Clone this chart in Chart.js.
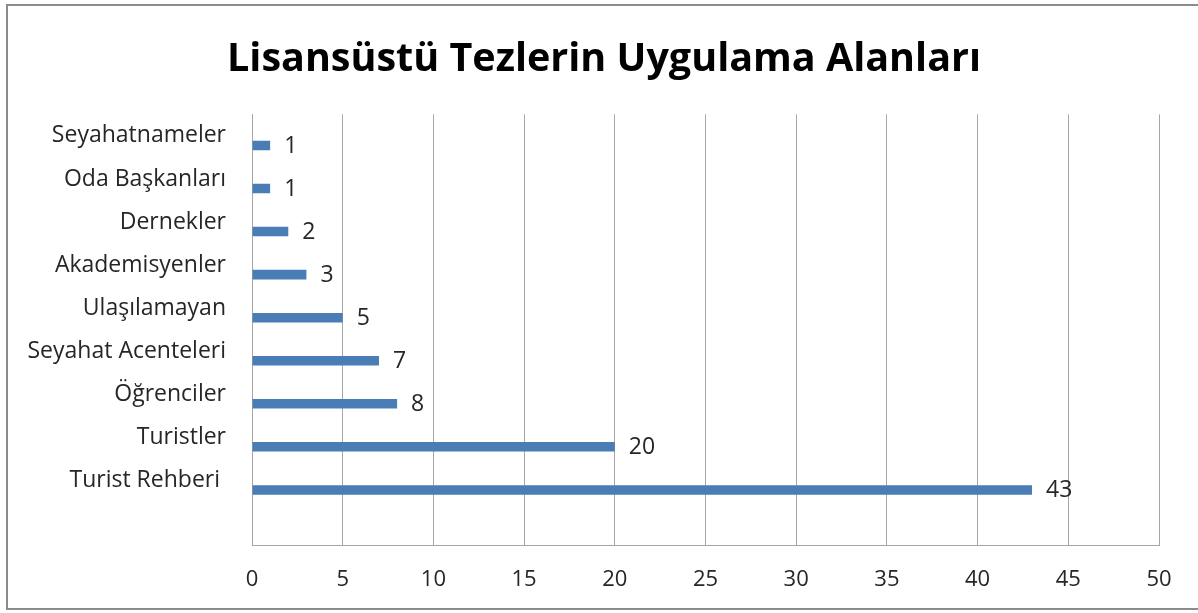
<!DOCTYPE html>
<html>
<head>
<meta charset="utf-8">
<script src="https://cdn.jsdelivr.net/npm/chart.js@4"></script>
<style>
    html, body { margin: 0; padding: 0; background: #fff; }
    #wrap { position: relative; width: 1198px; height: 613px; }
</style>
</head>
<body>
<div id="wrap"><canvas id="alanChart"></canvas></div>
<script>
// categories top to bottom, last row is the empty one from the sheet
const categories = ['Seyahatnameler', 'Oda Başkanları', 'Dernekler', 'Akademisyenler', 'Ulaşılamayan',
    'Seyahat Acenteleri', 'Öğrenciler', 'Turistler', 'Turist Rehberi ', ''];
const counts = [1, 1, 2, 3, 5, 7, 8, 20, 43, null];
// empty series that sits above the real one in each group (as in the original sheet)
const emptySeries = [null, null, null, null, null, null, null, null, null, null];
const xTicksMax = 50;
const xTickStep = 5;
const chartTitle = 'Lisansüstü Tezlerin Uygulama Alanları';

const barColor = '#4a7db5';
const gridColor = '#a6a6a6';
const textColor = '#262626';
const textFont = "'Open Sans', sans-serif";

document.addEventListener("DOMContentLoaded", function () {
    let canvas = document.getElementById('alanChart');

    // outer frame of the chart
    const framePlugin = {
        id: 'frame',
        beforeDraw(chart) {
            const ctx = chart.ctx;
            ctx.save();
            ctx.fillStyle = '#fff';
            ctx.fillRect(0, 0, chart.width, chart.height);
            ctx.strokeStyle = '#8c8c8c';
            ctx.lineWidth = 2;
            ctx.strokeRect(7, 5, chart.width + 10, 604);
            ctx.restore();
        }
    };

    // value labels right of each bar
    const valuePlugin = {
        id: 'values',
        afterDatasetsDraw(chart) {
            const ctx = chart.ctx;
            const meta = chart.getDatasetMeta(1);
            ctx.save();
            ctx.fillStyle = textColor;
            ctx.font = "23px " + textFont;
            ctx.textAlign = 'left';
            ctx.textBaseline = 'middle';
            meta.data.forEach((bar, i) => {
                if (counts[i] === null) return;
                ctx.fillText(String(counts[i]), bar.x + 14, bar.y + 1);
            });
            ctx.restore();
        }
    };

    window.alanChart = new Chart(canvas.getContext('2d'), {
        type: 'bar',
        data: {
            labels: categories,
            datasets: [
                { label: '', data: emptySeries, backgroundColor: barColor },
                { label: 'Tez sayısı', data: counts, backgroundColor: barColor }
            ]
        },
        options: {
            indexAxis: 'y',
            responsive: true,
            maintainAspectRatio: false,
            animation: false,
            categoryPercentage: 0.884,
            barPercentage: 0.5,
            layout: { padding: { left: 10, right: 0, top: 0, bottom: 0 } },
            plugins: {
                legend: { display: false },
                tooltip: { enabled: false },
                title: {
                    display: true,
                    text: chartTitle,
                    color: '#000',
                    font: { family: textFont, size: 39.5, weight: 'bold', lineHeight: 1.2 },
                    padding: { top: 36, bottom: 31 }
                }
            },
            scales: {
                x: {
                    min: 0,
                    max: xTicksMax,
                    afterFit(scale) {
                        scale.height = 68;
                        scale.paddingRight = 39;
                    },
                    ticks: {
                        stepSize: xTickStep,
                        color: textColor,
                        padding: 22,
                        font: { family: textFont, size: 22 }
                    },
                    grid: { color: gridColor, lineWidth: 1, drawTicks: false },
                    border: { color: gridColor }
                },
                y: {
                    afterFit(scale) { scale.width = 242; },
                    ticks: {
                        color: textColor,
                        padding: 26,
                        labelOffset: 0,
                        font: { family: textFont, size: 23 }
                    },
                    grid: { display: false, drawTicks: false },
                    border: { color: gridColor }
                }
            }
        },
        plugins: [framePlugin, valuePlugin]
    });
});
</script>
</body>
</html>
